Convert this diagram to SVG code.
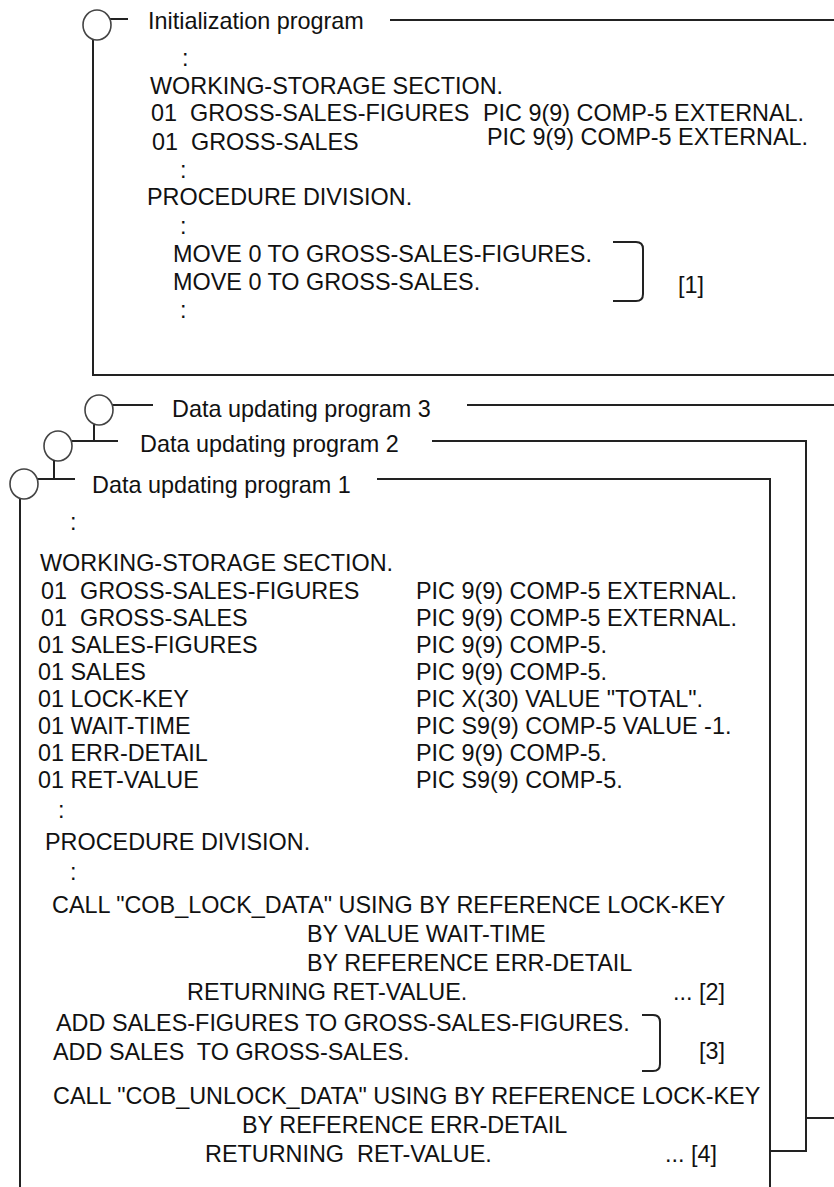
<svg xmlns="http://www.w3.org/2000/svg" width="834" height="1187" viewBox="0 0 834 1187">
<style>
text{font-family:"Liberation Sans",Arial,sans-serif;font-size:23.4px;fill:#111;white-space:pre}
.ln{fill:none;stroke:#222;stroke-width:2}
.cir{fill:#fff;stroke:#444;stroke-width:1.6}
</style>
<rect width="834" height="1187" fill="#fff"/>
<g id="init-program">
<path class="ln" d="M110,19 H128 M390,20 H834 M93,39.5 V375 H834"/>
<ellipse class="cir" cx="97" cy="25" rx="14" ry="15"/>
<text x="148" y="29">Initialization program</text>
<text x="182" y="66">:</text>
<text x="150" y="94">WORKING-STORAGE SECTION.</text>
<text x="151" y="121">01  GROSS-SALES-FIGURES</text>
<text x="483" y="121">PIC 9(9) COMP-5 EXTERNAL.</text>
<text x="152" y="150">01  GROSS-SALES</text>
<text x="487" y="145">PIC 9(9) COMP-5 EXTERNAL.</text>
<text x="180" y="178">:</text>
<text x="147" y="205">PROCEDURE DIVISION.</text>
<text x="180" y="234">:</text>
<text x="173" y="262">MOVE 0 TO GROSS-SALES-FIGURES.</text>
<text x="173" y="290">MOVE 0 TO GROSS-SALES.</text>
<text x="180" y="318">:</text>
<path class="ln" d="M613,242 L636,242 Q643,242 643,249 L643,294 Q643,301 636,301 L613,301" stroke-width="1.6"/>
<text x="678" y="293">[1]</text>
</g>
<g id="data-program-3">
<path class="ln" d="M112,405 H153 M467,405 H834 M806,1118 H834"/>
<ellipse class="cir" cx="99" cy="410" rx="14" ry="15"/>
<text x="172" y="417">Data updating program 3</text>
</g>
<g id="data-program-2">
<path class="ln" d="M72,441 H118 M432,441 H806 V1151 H770"/>
<ellipse class="cir" cx="58" cy="446" rx="14" ry="15"/>
<text x="140" y="452">Data updating program 2</text>
</g>
<g id="data-program-1">
<path class="ln" d="M37,479 H75 M377,479 H770 V1187 M20,498.5 V1187"/>
<ellipse class="cir" cx="24" cy="484" rx="14" ry="15"/>
<text x="92" y="493">Data updating program 1</text>
<text x="70" y="530">:</text>
<text x="40" y="571">WORKING-STORAGE SECTION.</text>
<text x="41" y="599">01  GROSS-SALES-FIGURES</text>
<text x="416" y="599">PIC 9(9) COMP-5 EXTERNAL.</text>
<text x="41" y="626">01  GROSS-SALES</text>
<text x="416" y="626">PIC 9(9) COMP-5 EXTERNAL.</text>
<text x="38" y="653">01 SALES-FIGURES</text>
<text x="416" y="653">PIC 9(9) COMP-5.</text>
<text x="38" y="680">01 SALES</text>
<text x="416" y="680">PIC 9(9) COMP-5.</text>
<text x="38" y="707">01 LOCK-KEY</text>
<text x="416" y="707">PIC X(30) VALUE "TOTAL".</text>
<text x="38" y="734">01 WAIT-TIME</text>
<text x="416" y="734">PIC S9(9) COMP-5 VALUE -1.</text>
<text x="38" y="761">01 ERR-DETAIL</text>
<text x="416" y="761">PIC 9(9) COMP-5.</text>
<text x="38" y="788">01 RET-VALUE</text>
<text x="416" y="788">PIC S9(9) COMP-5.</text>
<text x="58" y="818">:</text>
<text x="45" y="850">PROCEDURE DIVISION.</text>
<text x="70" y="880">:</text>
<text x="52" y="913">CALL "COB_LOCK_DATA" USING BY REFERENCE LOCK-KEY</text>
<text x="307" y="942">BY VALUE WAIT-TIME</text>
<text x="307" y="971">BY REFERENCE ERR-DETAIL</text>
<text x="187" y="1000">RETURNING RET-VALUE.</text>
<text x="673" y="1000">... [2]</text>
<text x="56" y="1031">ADD SALES-FIGURES TO GROSS-SALES-FIGURES.</text>
<text x="53" y="1060">ADD SALES  TO GROSS-SALES.</text>
<path class="ln" d="M642,1015 L653,1015 Q660,1015 660,1022 L660,1064 Q660,1071 653,1071 L642,1071" stroke-width="1.6"/>
<text x="699" y="1059">[3]</text>
<text x="53" y="1104">CALL "COB_UNLOCK_DATA" USING BY REFERENCE LOCK-KEY</text>
<text x="242" y="1133">BY REFERENCE ERR-DETAIL</text>
<text x="205" y="1162">RETURNING  RET-VALUE.</text>
<text x="665" y="1162">... [4]</text>
</g>
<g id="connectors">
<path class="ln" d="M94,424.5 V441 M54,460.5 V479"/>
</g>
</svg>
